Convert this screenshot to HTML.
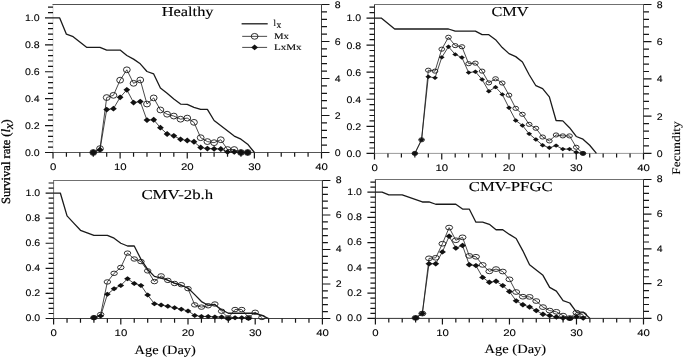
<!DOCTYPE html>
<html><head><meta charset="utf-8"><style>
html,body{margin:0;padding:0;background:#fff;}
svg{display:block;filter:blur(0.3px)}
.ax{stroke-width:1;fill:none}
.tk{stroke:#151515;stroke-width:1.2;fill:none}
.lx{stroke:#1a1a1a;stroke-width:1.3;fill:none;stroke-linejoin:round}
.dl{stroke:#1a1a1a;stroke-width:0.8;fill:none}
.ci{stroke:#1a1a1a;stroke-width:0.9;fill:none}
.di{fill:#111;stroke:none}
text{font-family:"Liberation Sans",sans-serif;fill:#111;text-rendering:geometricPrecision}
.tl{font-size:9.5px;fill:#000;stroke:#000;stroke-width:0.1px}
.tt{font-family:"Liberation Serif",serif;font-size:13.6px;fill:#000;stroke:#000;stroke-width:0.12px}
.at{font-family:"Liberation Serif",serif;font-size:12.7px;fill:#000;stroke:#000;stroke-width:0.12px}
.lg{font-family:"Liberation Serif",serif;font-size:8.9px;fill:#000;stroke:#000;stroke-width:0.1px}
.lgs{font-family:"Liberation Serif",serif;font-size:9.6px;fill:#000;stroke:#000;stroke-width:0.1px}
.yl{font-family:"Liberation Serif",serif;font-size:12.5px;fill:#000;stroke:#000;stroke-width:0.3px}
.yl2{font-family:"Liberation Serif",serif;font-size:11.5px;fill:#000;stroke:#000;stroke-width:0.12px}
</style></head>
<body><svg width="685" height="357" viewBox="0 0 685 357">
<rect width="685" height="357" fill="#fff"/>
<line x1="53" y1="4.5" x2="53" y2="152.5" class="ax" stroke="#d8d8d8"/>
<line x1="53" y1="152.5" x2="321.5" y2="152.5" class="ax" stroke="#555"/>
<line x1="52.5" y1="4.5" x2="321.5" y2="4.5" class="ax" stroke="#505050"/>
<line x1="321.5" y1="4.5" x2="321.5" y2="152.5" class="ax" stroke="#444"/>
<path d="M45 152.5H53M48 147.12H53M48 141.74H53M48 136.35H53M48 130.97H53M45 125.59H53M48 120.21H53M48 114.83H53M48 109.45H53M48 104.06H53M45 98.68H53M48 93.3H53M48 87.92H53M48 82.54H53M48 77.15H53M45 71.77H53M48 66.39H53M48 61.01H53M48 55.63H53M48 50.25H53M45 44.86H53M48 39.48H53M48 34.1H53M48 28.72H53M48 23.34H53M45 17.95H53M48 12.57H53M48 7.19H53M321.5 152.5H329.5M321.5 145.1H327M321.5 137.7H327M321.5 130.3H327M321.5 122.9H327M321.5 115.5H329.5M321.5 108.1H327M321.5 100.7H327M321.5 93.3H327M321.5 85.9H327M321.5 78.5H329.5M321.5 71.1H327M321.5 63.7H327M321.5 56.3H327M321.5 48.9H327M321.5 41.5H329.5M321.5 34.1H327M321.5 26.7H327M321.5 19.3H327M321.5 11.9H327M321.5 4.5H329.5M53 152.5V158.5M66.42 152.5V156.7M79.85 152.5V156.7M93.28 152.5V156.7M106.7 152.5V156.7M120.12 152.5V158.5M133.55 152.5V156.7M146.98 152.5V156.7M160.4 152.5V156.7M173.82 152.5V156.7M187.25 152.5V158.5M200.68 152.5V156.7M214.1 152.5V156.7M227.53 152.5V156.7M240.95 152.5V156.7M254.38 152.5V158.5M267.8 152.5V156.7M281.23 152.5V156.7M294.65 152.5V156.7M308.08 152.5V156.7M321.5 152.5V158.5" class="tk"/>
<text transform="translate(39.6,155.9) scale(1.11,1)" class="tl" text-anchor="end">0.0</text>
<text transform="translate(39.6,128.99) scale(1.11,1)" class="tl" text-anchor="end">0.2</text>
<text transform="translate(39.6,102.08) scale(1.11,1)" class="tl" text-anchor="end">0.4</text>
<text transform="translate(39.6,75.17) scale(1.11,1)" class="tl" text-anchor="end">0.6</text>
<text transform="translate(39.6,48.26) scale(1.11,1)" class="tl" text-anchor="end">0.8</text>
<text transform="translate(39.6,21.35) scale(1.11,1)" class="tl" text-anchor="end">1.0</text>
<text transform="translate(334.8,155.9) scale(1.11,1)" class="tl">0</text>
<text transform="translate(334.8,118.9) scale(1.11,1)" class="tl">2</text>
<text transform="translate(334.8,81.9) scale(1.11,1)" class="tl">4</text>
<text transform="translate(334.8,44.9) scale(1.11,1)" class="tl">6</text>
<text transform="translate(334.8,7.9) scale(1.11,1)" class="tl">8</text>
<text transform="translate(53.1,170.3) scale(1.2,1)" class="tl" text-anchor="middle">0</text>
<text transform="translate(120.22,170.3) scale(1.2,1)" class="tl" text-anchor="middle">10</text>
<text transform="translate(187.35,170.3) scale(1.2,1)" class="tl" text-anchor="middle">20</text>
<text transform="translate(254.47,170.3) scale(1.2,1)" class="tl" text-anchor="middle">30</text>
<text transform="translate(321.6,170.3) scale(1.2,1)" class="tl" text-anchor="middle">40</text>
<polyline points="53,17.95 59.71,17.95 66.42,34.23 73.14,36.66 86.56,47.29 99.99,47.29 106.7,50.11 120.12,50.11 126.84,55.49 133.55,59.13 140.26,63.83 146.98,71.5 153.69,73.93 160.4,88.05 167.11,93.3 173.82,98.95 180.54,104.06 187.25,104.33 193.96,107.29 200.68,109.45 207.39,109.45 214.1,120.48 234.24,136.09 240.95,139.18 247.66,144.16 254.38,152.5" class="lx"/>
<polyline points="93.28,152.5 99.99,148.62 106.7,97.56 113.41,95.34 120.12,80.16 126.84,69.81 133.55,83.31 140.26,79.98 146.98,104.03 153.69,97.92 160.4,109.95 167.11,114.21 173.82,116.06 180.54,119.2 187.25,118.09 193.96,122.34 200.68,137.7 207.39,141.59 214.1,142.69 220.81,139.74 227.53,149.54 234.24,149.54 240.95,152.5 247.66,152.5" class="dl"/>
<polyline points="93.28,152.5 99.99,149.72 106.7,109.58 113.41,108.66 120.12,97.37 126.84,89.78 133.55,102.55 140.26,101.62 146.98,120.12 153.69,119.75 160.4,127.71 167.11,134 173.82,135.85 180.54,139.37 187.25,140.47 193.96,141.77 200.68,147.5 207.39,148.62 214.1,148.8 220.81,148.99 227.53,151.94 234.24,151.94 240.95,152.5 247.66,152.5" class="dl"/>
<ellipse cx="93.28" cy="152.5" rx="3.4" ry="2.9" class="ci" stroke-width="0.9"/>
<ellipse cx="99.99" cy="148.62" rx="3.4" ry="2.9" class="ci" stroke-width="0.9"/>
<ellipse cx="106.7" cy="97.56" rx="3.4" ry="2.9" class="ci" stroke-width="0.9"/>
<ellipse cx="113.41" cy="95.34" rx="3.4" ry="2.9" class="ci" stroke-width="0.9"/>
<ellipse cx="120.12" cy="80.16" rx="3.4" ry="2.9" class="ci" stroke-width="0.9"/>
<ellipse cx="126.84" cy="69.81" rx="3.4" ry="2.9" class="ci" stroke-width="0.9"/>
<ellipse cx="133.55" cy="83.31" rx="3.4" ry="2.9" class="ci" stroke-width="0.9"/>
<ellipse cx="140.26" cy="79.98" rx="3.4" ry="2.9" class="ci" stroke-width="0.9"/>
<ellipse cx="146.98" cy="104.03" rx="3.4" ry="2.9" class="ci" stroke-width="0.9"/>
<ellipse cx="153.69" cy="97.92" rx="3.4" ry="2.9" class="ci" stroke-width="0.9"/>
<ellipse cx="160.4" cy="109.95" rx="3.4" ry="2.9" class="ci" stroke-width="0.9"/>
<ellipse cx="167.11" cy="114.21" rx="3.4" ry="2.9" class="ci" stroke-width="0.9"/>
<ellipse cx="173.82" cy="116.06" rx="3.4" ry="2.9" class="ci" stroke-width="0.9"/>
<ellipse cx="180.54" cy="119.2" rx="3.4" ry="2.9" class="ci" stroke-width="0.9"/>
<ellipse cx="187.25" cy="118.09" rx="3.4" ry="2.9" class="ci" stroke-width="0.9"/>
<ellipse cx="193.96" cy="122.34" rx="3.4" ry="2.9" class="ci" stroke-width="0.9"/>
<ellipse cx="200.68" cy="137.7" rx="3.4" ry="2.9" class="ci" stroke-width="0.9"/>
<ellipse cx="207.39" cy="141.59" rx="3.4" ry="2.9" class="ci" stroke-width="0.9"/>
<ellipse cx="214.1" cy="142.69" rx="3.4" ry="2.9" class="ci" stroke-width="0.9"/>
<ellipse cx="220.81" cy="139.74" rx="3.4" ry="2.9" class="ci" stroke-width="0.9"/>
<ellipse cx="227.53" cy="149.54" rx="3.4" ry="2.9" class="ci" stroke-width="0.9"/>
<ellipse cx="234.24" cy="149.54" rx="3.4" ry="2.9" class="ci" stroke-width="0.9"/>
<ellipse cx="240.95" cy="152.5" rx="3.4" ry="2.9" class="ci" stroke-width="0.9"/>
<ellipse cx="247.66" cy="152.5" rx="3.4" ry="2.9" class="ci" stroke-width="0.9"/>
<ellipse cx="93.28" cy="152.5" rx="3.13" ry="2.67" fill="#222"/>
<path d="M89.88 152.5L93.28 149.6L96.68 152.5L93.28 155.4Z" class="di"/>
<path d="M96.59 149.72L99.99 146.82L103.39 149.72L99.99 152.62Z" class="di"/>
<path d="M103.3 109.58L106.7 106.68L110.1 109.58L106.7 112.48Z" class="di"/>
<path d="M110.01 108.66L113.41 105.75L116.81 108.66L113.41 111.56Z" class="di"/>
<path d="M116.72 97.37L120.12 94.47L123.53 97.37L120.12 100.27Z" class="di"/>
<path d="M123.44 89.78L126.84 86.88L130.24 89.78L126.84 92.69Z" class="di"/>
<path d="M130.15 102.55L133.55 99.65L136.95 102.55L133.55 105.45Z" class="di"/>
<path d="M136.86 101.62L140.26 98.72L143.66 101.62L140.26 104.53Z" class="di"/>
<path d="M143.58 120.12L146.98 117.22L150.38 120.12L146.98 123.03Z" class="di"/>
<path d="M150.29 119.75L153.69 116.85L157.09 119.75L153.69 122.66Z" class="di"/>
<path d="M157 127.71L160.4 124.81L163.8 127.71L160.4 130.61Z" class="di"/>
<path d="M163.71 134L167.11 131.1L170.51 134L167.11 136.9Z" class="di"/>
<path d="M170.42 135.85L173.82 132.95L177.22 135.85L173.82 138.75Z" class="di"/>
<path d="M177.14 139.37L180.54 136.47L183.94 139.37L180.54 142.27Z" class="di"/>
<path d="M183.85 140.47L187.25 137.57L190.65 140.47L187.25 143.38Z" class="di"/>
<path d="M190.56 141.77L193.96 138.87L197.36 141.77L193.96 144.67Z" class="di"/>
<path d="M197.28 147.5L200.68 144.6L204.08 147.5L200.68 150.41Z" class="di"/>
<path d="M203.99 148.62L207.39 145.72L210.79 148.62L207.39 151.52Z" class="di"/>
<path d="M210.7 148.8L214.1 145.9L217.5 148.8L214.1 151.7Z" class="di"/>
<path d="M217.41 148.99L220.81 146.09L224.21 148.99L220.81 151.89Z" class="di"/>
<path d="M224.12 151.94L227.53 149.04L230.93 151.94L227.53 154.84Z" class="di"/>
<path d="M230.84 151.94L234.24 149.04L237.64 151.94L234.24 154.84Z" class="di"/>
<ellipse cx="240.95" cy="152.5" rx="3.13" ry="2.67" fill="#222"/>
<path d="M237.55 152.5L240.95 149.6L244.35 152.5L240.95 155.4Z" class="di"/>
<ellipse cx="247.66" cy="152.5" rx="3.13" ry="2.67" fill="#222"/>
<path d="M244.26 152.5L247.66 149.6L251.06 152.5L247.66 155.4Z" class="di"/>
<text x="161.7" y="16.1" class="tt" textLength="51.9" lengthAdjust="spacingAndGlyphs">Healthy</text>
<line x1="374.5" y1="4.5" x2="374.5" y2="153.4" class="ax" stroke="#333"/>
<line x1="374.5" y1="153.4" x2="643.5" y2="153.4" class="ax" stroke="#9a9a9a"/>
<line x1="374" y1="4.5" x2="643.5" y2="4.5" class="ax" stroke="#707070"/>
<line x1="643.5" y1="4.5" x2="643.5" y2="153.4" class="ax" stroke="#606060"/>
<path d="M366.5 153.4H374.5M369.5 147.99H374.5M369.5 142.57H374.5M369.5 137.16H374.5M369.5 131.74H374.5M366.5 126.33H374.5M369.5 120.91H374.5M369.5 115.5H374.5M369.5 110.08H374.5M369.5 104.67H374.5M366.5 99.25H374.5M369.5 93.84H374.5M369.5 88.43H374.5M369.5 83.01H374.5M369.5 77.6H374.5M366.5 72.18H374.5M369.5 66.77H374.5M369.5 61.35H374.5M369.5 55.94H374.5M369.5 50.52H374.5M366.5 45.11H374.5M369.5 39.69H374.5M369.5 34.28H374.5M369.5 28.87H374.5M369.5 23.45H374.5M366.5 18.04H374.5M369.5 12.62H374.5M369.5 7.21H374.5M643.5 153.4H651.5M643.5 145.96H649M643.5 138.51H649M643.5 131.06H649M643.5 123.62H649M643.5 116.18H651.5M643.5 108.73H649M643.5 101.28H649M643.5 93.84H649M643.5 86.39H649M643.5 78.95H651.5M643.5 71.5H649M643.5 64.06H649M643.5 56.61H649M643.5 49.17H649M643.5 41.72H651.5M643.5 34.28H649M643.5 26.83H649M643.5 19.39H649M643.5 11.94H649M643.5 4.5H651.5M374.5 153.4V159.4M387.95 153.4V157.6M401.4 153.4V157.6M414.85 153.4V157.6M428.3 153.4V157.6M441.75 153.4V159.4M455.2 153.4V157.6M468.65 153.4V157.6M482.1 153.4V157.6M495.55 153.4V157.6M509 153.4V159.4M522.45 153.4V157.6M535.9 153.4V157.6M549.35 153.4V157.6M562.8 153.4V157.6M576.25 153.4V159.4M589.7 153.4V157.6M603.15 153.4V157.6M616.6 153.4V157.6M630.05 153.4V157.6M643.5 153.4V159.4" class="tk"/>
<text transform="translate(361.1,156.8) scale(1.11,1)" class="tl" text-anchor="end">0.0</text>
<text transform="translate(361.1,129.73) scale(1.11,1)" class="tl" text-anchor="end">0.2</text>
<text transform="translate(361.1,102.65) scale(1.11,1)" class="tl" text-anchor="end">0.4</text>
<text transform="translate(361.1,75.58) scale(1.11,1)" class="tl" text-anchor="end">0.6</text>
<text transform="translate(361.1,48.51) scale(1.11,1)" class="tl" text-anchor="end">0.8</text>
<text transform="translate(361.1,21.44) scale(1.11,1)" class="tl" text-anchor="end">1.0</text>
<text transform="translate(656.8,156.8) scale(1.11,1)" class="tl">0</text>
<text transform="translate(656.8,119.58) scale(1.11,1)" class="tl">2</text>
<text transform="translate(656.8,82.35) scale(1.11,1)" class="tl">4</text>
<text transform="translate(656.8,45.12) scale(1.11,1)" class="tl">6</text>
<text transform="translate(656.8,7.9) scale(1.11,1)" class="tl">8</text>
<text transform="translate(374.6,171.2) scale(1.2,1)" class="tl" text-anchor="middle">0</text>
<text transform="translate(441.85,171.2) scale(1.2,1)" class="tl" text-anchor="middle">10</text>
<text transform="translate(509.1,171.2) scale(1.2,1)" class="tl" text-anchor="middle">20</text>
<text transform="translate(576.35,171.2) scale(1.2,1)" class="tl" text-anchor="middle">30</text>
<text transform="translate(643.6,171.2) scale(1.2,1)" class="tl" text-anchor="middle">40</text>
<polyline points="374.5,18.04 381.23,18.04 394.68,29 448.48,29 455.2,31.17 475.38,31.17 482.1,34.69 488.82,34.69 495.55,39.69 502.27,47.55 509,53.64 515.73,56.62 522.45,62.03 529.17,74.75 535.9,85.72 542.62,88.56 549.35,96.82 556.08,120.51 562.8,120.91 569.52,127.68 576.25,136.48 582.98,139.19 589.7,145.28 596.42,153.4" class="lx"/>
<polyline points="414.85,153.4 421.57,139.81 428.3,70.2 435.02,71.13 441.75,49.17 448.48,37.26 455.2,45.63 461.93,46.75 468.65,63.69 475.38,63.13 482.1,71.13 488.82,82.86 495.55,78.76 502.27,83.04 509,95.14 515.73,108.36 522.45,114.31 529.17,124.36 535.9,128.27 542.62,137.02 549.35,140.93 556.08,134.97 562.8,135.9 569.52,135.9 576.25,147.26 582.98,153.4" class="dl"/>
<polyline points="414.85,153.4 421.57,139.81 428.3,76.72 435.02,77.83 441.75,57.36 448.48,46.75 455.2,54.38 461.93,57.55 468.65,72.62 475.38,71.69 482.1,79.51 488.82,91.23 495.55,87.14 502.27,94.4 509,107.8 515.73,120.46 522.45,125.48 529.17,133.86 535.9,139.44 542.62,145.21 549.35,147.82 556.08,145.58 562.8,149.12 569.52,149.12 576.25,152.28 582.98,153.4" class="dl"/>
<ellipse cx="414.85" cy="153.4" rx="2.85" ry="2.05" class="ci" stroke-width="0.75"/>
<ellipse cx="421.57" cy="139.81" rx="2.85" ry="2.05" class="ci" stroke-width="0.75"/>
<ellipse cx="428.3" cy="70.2" rx="2.85" ry="2.05" class="ci" stroke-width="0.75"/>
<ellipse cx="435.02" cy="71.13" rx="2.85" ry="2.05" class="ci" stroke-width="0.75"/>
<ellipse cx="441.75" cy="49.17" rx="2.85" ry="2.05" class="ci" stroke-width="0.75"/>
<ellipse cx="448.48" cy="37.26" rx="2.85" ry="2.05" class="ci" stroke-width="0.75"/>
<ellipse cx="455.2" cy="45.63" rx="2.85" ry="2.05" class="ci" stroke-width="0.75"/>
<ellipse cx="461.93" cy="46.75" rx="2.85" ry="2.05" class="ci" stroke-width="0.75"/>
<ellipse cx="468.65" cy="63.69" rx="2.85" ry="2.05" class="ci" stroke-width="0.75"/>
<ellipse cx="475.38" cy="63.13" rx="2.85" ry="2.05" class="ci" stroke-width="0.75"/>
<ellipse cx="482.1" cy="71.13" rx="2.85" ry="2.05" class="ci" stroke-width="0.75"/>
<ellipse cx="488.82" cy="82.86" rx="2.85" ry="2.05" class="ci" stroke-width="0.75"/>
<ellipse cx="495.55" cy="78.76" rx="2.85" ry="2.05" class="ci" stroke-width="0.75"/>
<ellipse cx="502.27" cy="83.04" rx="2.85" ry="2.05" class="ci" stroke-width="0.75"/>
<ellipse cx="509" cy="95.14" rx="2.85" ry="2.05" class="ci" stroke-width="0.75"/>
<ellipse cx="515.73" cy="108.36" rx="2.85" ry="2.05" class="ci" stroke-width="0.75"/>
<ellipse cx="522.45" cy="114.31" rx="2.85" ry="2.05" class="ci" stroke-width="0.75"/>
<ellipse cx="529.17" cy="124.36" rx="2.85" ry="2.05" class="ci" stroke-width="0.75"/>
<ellipse cx="535.9" cy="128.27" rx="2.85" ry="2.05" class="ci" stroke-width="0.75"/>
<ellipse cx="542.62" cy="137.02" rx="2.85" ry="2.05" class="ci" stroke-width="0.75"/>
<ellipse cx="549.35" cy="140.93" rx="2.85" ry="2.05" class="ci" stroke-width="0.75"/>
<ellipse cx="556.08" cy="134.97" rx="2.85" ry="2.05" class="ci" stroke-width="0.75"/>
<ellipse cx="562.8" cy="135.9" rx="2.85" ry="2.05" class="ci" stroke-width="0.75"/>
<ellipse cx="569.52" cy="135.9" rx="2.85" ry="2.05" class="ci" stroke-width="0.75"/>
<ellipse cx="576.25" cy="147.26" rx="2.85" ry="2.05" class="ci" stroke-width="0.75"/>
<ellipse cx="582.98" cy="153.4" rx="2.85" ry="2.05" class="ci" stroke-width="0.75"/>
<ellipse cx="414.85" cy="153.4" rx="2.62" ry="1.89" fill="#222"/>
<path d="M411.95 153.4L414.85 151.2L417.75 153.4L414.85 155.6Z" class="di"/>
<path d="M418.68 139.81L421.57 137.61L424.47 139.81L421.57 142.01Z" class="di"/>
<path d="M425.4 76.72L428.3 74.52L431.2 76.72L428.3 78.92Z" class="di"/>
<path d="M432.12 77.83L435.02 75.63L437.92 77.83L435.02 80.03Z" class="di"/>
<path d="M438.85 57.36L441.75 55.16L444.65 57.36L441.75 59.56Z" class="di"/>
<path d="M445.58 46.75L448.48 44.55L451.38 46.75L448.48 48.95Z" class="di"/>
<path d="M452.3 54.38L455.2 52.18L458.1 54.38L455.2 56.58Z" class="di"/>
<path d="M459.03 57.55L461.93 55.35L464.82 57.55L461.93 59.75Z" class="di"/>
<path d="M465.75 72.62L468.65 70.42L471.55 72.62L468.65 74.82Z" class="di"/>
<path d="M472.48 71.69L475.38 69.49L478.27 71.69L475.38 73.89Z" class="di"/>
<path d="M479.2 79.51L482.1 77.31L485 79.51L482.1 81.71Z" class="di"/>
<path d="M485.93 91.23L488.82 89.03L491.72 91.23L488.82 93.43Z" class="di"/>
<path d="M492.65 87.14L495.55 84.94L498.45 87.14L495.55 89.34Z" class="di"/>
<path d="M499.38 94.4L502.27 92.2L505.17 94.4L502.27 96.6Z" class="di"/>
<path d="M506.1 107.8L509 105.6L511.9 107.8L509 110Z" class="di"/>
<path d="M512.83 120.46L515.73 118.26L518.62 120.46L515.73 122.66Z" class="di"/>
<path d="M519.55 125.48L522.45 123.28L525.35 125.48L522.45 127.68Z" class="di"/>
<path d="M526.27 133.86L529.17 131.66L532.07 133.86L529.17 136.06Z" class="di"/>
<path d="M533 139.44L535.9 137.24L538.8 139.44L535.9 141.64Z" class="di"/>
<path d="M539.73 145.21L542.62 143.01L545.52 145.21L542.62 147.41Z" class="di"/>
<path d="M546.45 147.82L549.35 145.62L552.25 147.82L549.35 150.02Z" class="di"/>
<path d="M553.18 145.58L556.08 143.38L558.98 145.58L556.08 147.78Z" class="di"/>
<path d="M559.9 149.12L562.8 146.92L565.7 149.12L562.8 151.32Z" class="di"/>
<path d="M566.62 149.12L569.52 146.92L572.42 149.12L569.52 151.32Z" class="di"/>
<path d="M573.35 152.28L576.25 150.08L579.15 152.28L576.25 154.48Z" class="di"/>
<ellipse cx="582.98" cy="153.4" rx="2.62" ry="1.89" fill="#222"/>
<path d="M580.08 153.4L582.98 151.2L585.88 153.4L582.98 155.6Z" class="di"/>
<text x="491.4" y="16.35" class="tt" textLength="37.1" lengthAdjust="spacingAndGlyphs">CMV</text>
<line x1="53.6" y1="180.5" x2="53.6" y2="318.5" class="ax" stroke="#777"/>
<line x1="53.6" y1="318.5" x2="322.4" y2="318.5" class="ax" stroke="#404040"/>
<line x1="53.1" y1="180.5" x2="322.4" y2="180.5" class="ax" stroke="#707070"/>
<line x1="322.4" y1="180.5" x2="322.4" y2="318.5" class="ax" stroke="#2a2a2a"/>
<path d="M45.6 318.5H53.6M48.6 313.48H53.6M48.6 308.46H53.6M48.6 303.45H53.6M48.6 298.43H53.6M45.6 293.41H53.6M48.6 288.39H53.6M48.6 283.37H53.6M48.6 278.35H53.6M48.6 273.34H53.6M45.6 268.32H53.6M48.6 263.3H53.6M48.6 258.28H53.6M48.6 253.26H53.6M48.6 248.25H53.6M45.6 243.23H53.6M48.6 238.21H53.6M48.6 233.19H53.6M48.6 228.17H53.6M48.6 223.15H53.6M45.6 218.14H53.6M48.6 213.12H53.6M48.6 208.1H53.6M48.6 203.08H53.6M48.6 198.06H53.6M45.6 193.05H53.6M48.6 188.03H53.6M48.6 183.01H53.6M322.4 318.5H330.4M322.4 311.6H327.9M322.4 304.7H327.9M322.4 297.8H327.9M322.4 290.9H327.9M322.4 284H330.4M322.4 277.1H327.9M322.4 270.2H327.9M322.4 263.3H327.9M322.4 256.4H327.9M322.4 249.5H330.4M322.4 242.6H327.9M322.4 235.7H327.9M322.4 228.8H327.9M322.4 221.9H327.9M322.4 215H330.4M322.4 208.1H327.9M322.4 201.2H327.9M322.4 194.3H327.9M322.4 187.4H327.9M322.4 180.5H330.4M53.6 318.5V324.5M67.04 318.5V322.7M80.48 318.5V322.7M93.92 318.5V322.7M107.36 318.5V322.7M120.8 318.5V324.5M134.24 318.5V322.7M147.68 318.5V322.7M161.12 318.5V322.7M174.56 318.5V322.7M188 318.5V324.5M201.44 318.5V322.7M214.88 318.5V322.7M228.32 318.5V322.7M241.76 318.5V322.7M255.2 318.5V324.5M268.64 318.5V322.7M282.08 318.5V322.7M295.52 318.5V322.7M308.96 318.5V322.7M322.4 318.5V324.5" class="tk"/>
<text transform="translate(40.2,321.3) scale(1.11,1)" class="tl" text-anchor="end">0.0</text>
<text transform="translate(40.2,296.21) scale(1.11,1)" class="tl" text-anchor="end">0.2</text>
<text transform="translate(40.2,271.12) scale(1.11,1)" class="tl" text-anchor="end">0.4</text>
<text transform="translate(40.2,246.03) scale(1.11,1)" class="tl" text-anchor="end">0.6</text>
<text transform="translate(40.2,220.94) scale(1.11,1)" class="tl" text-anchor="end">0.8</text>
<text transform="translate(40.2,195.85) scale(1.11,1)" class="tl" text-anchor="end">1.0</text>
<text transform="translate(335.7,321.3) scale(1.11,1)" class="tl">0</text>
<text transform="translate(335.7,286.8) scale(1.11,1)" class="tl">2</text>
<text transform="translate(335.7,252.3) scale(1.11,1)" class="tl">4</text>
<text transform="translate(335.7,217.8) scale(1.11,1)" class="tl">6</text>
<text transform="translate(335.7,183.3) scale(1.11,1)" class="tl">8</text>
<text transform="translate(53.7,336.3) scale(1.2,1)" class="tl" text-anchor="middle">0</text>
<text transform="translate(120.9,336.3) scale(1.2,1)" class="tl" text-anchor="middle">10</text>
<text transform="translate(188.1,336.3) scale(1.2,1)" class="tl" text-anchor="middle">20</text>
<text transform="translate(255.3,336.3) scale(1.2,1)" class="tl" text-anchor="middle">30</text>
<text transform="translate(322.5,336.3) scale(1.2,1)" class="tl" text-anchor="middle">40</text>
<polyline points="53.6,193.05 60.32,193.05 67.04,215.88 73.76,223.15 80.48,230.31 87.2,232.81 93.92,235.45 107.36,235.45 114.08,238.21 120.8,243.23 127.52,245.99 134.24,245.99 140.96,259.29 147.68,269.45 154.4,276.35 161.12,278.23 167.84,280.24 174.56,283.12 181.28,285.51 188,288.01 194.72,294.66 201.44,301.56 208.16,305.2 214.88,304.7 221.6,309.72 228.32,313.23 255.2,313.23 261.92,315.36 268.64,318.5" class="lx"/>
<polyline points="93.92,317.64 100.64,314.53 107.36,281.93 114.08,273.31 120.8,267.44 127.52,253.12 134.24,258.99 140.96,261.57 147.68,270.89 154.4,281.58 161.12,275.89 167.84,280.38 174.56,283.48 181.28,284.69 188,288.66 194.72,304.87 201.44,307.12 208.16,305.74 214.88,304.01 221.6,311.25 228.32,317.81 235.04,309.53 241.76,309.53 248.48,317.64 255.2,312.29 261.92,317.46" class="dl"/>
<polyline points="93.92,317.64 100.64,316.08 107.36,294.35 114.08,288.83 120.8,285.38 127.52,278.82 134.24,283.48 140.96,285.38 147.68,295.04 154.4,303.67 161.12,305.05 167.84,306.25 174.56,307.81 181.28,309.19 188,310.91 194.72,315.39 201.44,316.43 208.16,316.43 214.88,316.95 221.6,317.12 228.32,318.5 235.04,317.81 241.76,317.81 248.48,318.15" class="dl"/>
<ellipse cx="93.92" cy="317.64" rx="3.25" ry="2.2" class="ci" stroke-width="0.85"/>
<ellipse cx="100.64" cy="314.53" rx="3.25" ry="2.2" class="ci" stroke-width="0.85"/>
<ellipse cx="107.36" cy="281.93" rx="3.25" ry="2.2" class="ci" stroke-width="0.85"/>
<ellipse cx="114.08" cy="273.31" rx="3.25" ry="2.2" class="ci" stroke-width="0.85"/>
<ellipse cx="120.8" cy="267.44" rx="3.25" ry="2.2" class="ci" stroke-width="0.85"/>
<ellipse cx="127.52" cy="253.12" rx="3.25" ry="2.2" class="ci" stroke-width="0.85"/>
<ellipse cx="134.24" cy="258.99" rx="3.25" ry="2.2" class="ci" stroke-width="0.85"/>
<ellipse cx="140.96" cy="261.57" rx="3.25" ry="2.2" class="ci" stroke-width="0.85"/>
<ellipse cx="147.68" cy="270.89" rx="3.25" ry="2.2" class="ci" stroke-width="0.85"/>
<ellipse cx="154.4" cy="281.58" rx="3.25" ry="2.2" class="ci" stroke-width="0.85"/>
<ellipse cx="161.12" cy="275.89" rx="3.25" ry="2.2" class="ci" stroke-width="0.85"/>
<ellipse cx="167.84" cy="280.38" rx="3.25" ry="2.2" class="ci" stroke-width="0.85"/>
<ellipse cx="174.56" cy="283.48" rx="3.25" ry="2.2" class="ci" stroke-width="0.85"/>
<ellipse cx="181.28" cy="284.69" rx="3.25" ry="2.2" class="ci" stroke-width="0.85"/>
<ellipse cx="188" cy="288.66" rx="3.25" ry="2.2" class="ci" stroke-width="0.85"/>
<ellipse cx="194.72" cy="304.87" rx="3.25" ry="2.2" class="ci" stroke-width="0.85"/>
<ellipse cx="201.44" cy="307.12" rx="3.25" ry="2.2" class="ci" stroke-width="0.85"/>
<ellipse cx="208.16" cy="305.74" rx="3.25" ry="2.2" class="ci" stroke-width="0.85"/>
<ellipse cx="214.88" cy="304.01" rx="3.25" ry="2.2" class="ci" stroke-width="0.85"/>
<ellipse cx="221.6" cy="311.25" rx="3.25" ry="2.2" class="ci" stroke-width="0.85"/>
<ellipse cx="228.32" cy="317.81" rx="3.25" ry="2.2" class="ci" stroke-width="0.85"/>
<ellipse cx="235.04" cy="309.53" rx="3.25" ry="2.2" class="ci" stroke-width="0.85"/>
<ellipse cx="241.76" cy="309.53" rx="3.25" ry="2.2" class="ci" stroke-width="0.85"/>
<ellipse cx="248.48" cy="317.64" rx="3.25" ry="2.2" class="ci" stroke-width="0.85"/>
<ellipse cx="255.2" cy="312.29" rx="3.25" ry="2.2" class="ci" stroke-width="0.85"/>
<ellipse cx="261.92" cy="317.46" rx="3.25" ry="2.2" class="ci" stroke-width="0.85"/>
<ellipse cx="93.92" cy="317.64" rx="2.99" ry="2.02" fill="#222"/>
<path d="M90.52 317.64L93.92 315.14L97.32 317.64L93.92 320.14Z" class="di"/>
<path d="M97.24 316.08L100.64 313.58L104.04 316.08L100.64 318.58Z" class="di"/>
<path d="M103.96 294.35L107.36 291.85L110.76 294.35L107.36 296.85Z" class="di"/>
<path d="M110.68 288.83L114.08 286.33L117.48 288.83L114.08 291.33Z" class="di"/>
<path d="M117.4 285.38L120.8 282.88L124.2 285.38L120.8 287.88Z" class="di"/>
<path d="M124.12 278.82L127.52 276.32L130.92 278.82L127.52 281.32Z" class="di"/>
<path d="M130.84 283.48L134.24 280.98L137.64 283.48L134.24 285.98Z" class="di"/>
<path d="M137.56 285.38L140.96 282.88L144.36 285.38L140.96 287.88Z" class="di"/>
<path d="M144.28 295.04L147.68 292.54L151.08 295.04L147.68 297.54Z" class="di"/>
<path d="M151 303.67L154.4 301.17L157.8 303.67L154.4 306.17Z" class="di"/>
<path d="M157.72 305.05L161.12 302.55L164.52 305.05L161.12 307.55Z" class="di"/>
<path d="M164.44 306.25L167.84 303.75L171.24 306.25L167.84 308.75Z" class="di"/>
<path d="M171.16 307.81L174.56 305.31L177.96 307.81L174.56 310.31Z" class="di"/>
<path d="M177.88 309.19L181.28 306.69L184.68 309.19L181.28 311.69Z" class="di"/>
<path d="M184.6 310.91L188 308.41L191.4 310.91L188 313.41Z" class="di"/>
<path d="M191.32 315.39L194.72 312.89L198.12 315.39L194.72 317.89Z" class="di"/>
<path d="M198.04 316.43L201.44 313.93L204.84 316.43L201.44 318.93Z" class="di"/>
<path d="M204.76 316.43L208.16 313.93L211.56 316.43L208.16 318.93Z" class="di"/>
<path d="M211.48 316.95L214.88 314.45L218.28 316.95L214.88 319.45Z" class="di"/>
<path d="M218.2 317.12L221.6 314.62L225 317.12L221.6 319.62Z" class="di"/>
<ellipse cx="228.32" cy="318.5" rx="2.99" ry="2.02" fill="#222"/>
<path d="M224.92 318.5L228.32 316L231.72 318.5L228.32 321Z" class="di"/>
<path d="M231.64 317.81L235.04 315.31L238.44 317.81L235.04 320.31Z" class="di"/>
<path d="M238.36 317.81L241.76 315.31L245.16 317.81L241.76 320.31Z" class="di"/>
<ellipse cx="248.48" cy="318.15" rx="2.99" ry="2.02" fill="#222"/>
<path d="M245.08 318.15L248.48 315.65L251.88 318.15L248.48 320.65Z" class="di"/>
<text x="141.4" y="199" class="tt" textLength="71.8" lengthAdjust="spacingAndGlyphs">CMV-2b.h</text>
<text x="134.6" y="354.1" class="at" textLength="61.3" lengthAdjust="spacingAndGlyphs">Age (Day)</text>
<line x1="375.4" y1="179.5" x2="375.4" y2="318.4" class="ax" stroke="#333"/>
<line x1="375.4" y1="318.4" x2="643.5" y2="318.4" class="ax" stroke="#333"/>
<line x1="374.9" y1="179.5" x2="643.5" y2="179.5" class="ax" stroke="#707070"/>
<line x1="643.5" y1="179.5" x2="643.5" y2="318.4" class="ax" stroke="#333"/>
<path d="M367.4 318.4H375.4M370.4 313.35H375.4M370.4 308.3H375.4M370.4 303.25H375.4M370.4 298.2H375.4M367.4 293.15H375.4M370.4 288.09H375.4M370.4 283.04H375.4M370.4 277.99H375.4M370.4 272.94H375.4M367.4 267.89H375.4M370.4 262.84H375.4M370.4 257.79H375.4M370.4 252.74H375.4M370.4 247.69H375.4M367.4 242.64H375.4M370.4 237.59H375.4M370.4 232.53H375.4M370.4 227.48H375.4M370.4 222.43H375.4M367.4 217.38H375.4M370.4 212.33H375.4M370.4 207.28H375.4M370.4 202.23H375.4M370.4 197.18H375.4M367.4 192.13H375.4M370.4 187.08H375.4M370.4 182.03H375.4M643.5 318.4H651.5M643.5 311.45H649M643.5 304.51H649M643.5 297.56H649M643.5 290.62H649M643.5 283.67H651.5M643.5 276.73H649M643.5 269.78H649M643.5 262.84H649M643.5 255.89H649M643.5 248.95H651.5M643.5 242H649M643.5 235.06H649M643.5 228.12H649M643.5 221.17H649M643.5 214.22H651.5M643.5 207.28H649M643.5 200.33H649M643.5 193.39H649M643.5 186.44H649M643.5 179.5H651.5M375.4 318.4V324.4M388.8 318.4V322.6M402.21 318.4V322.6M415.62 318.4V322.6M429.02 318.4V322.6M442.42 318.4V324.4M455.83 318.4V322.6M469.24 318.4V322.6M482.64 318.4V322.6M496.04 318.4V322.6M509.45 318.4V324.4M522.86 318.4V322.6M536.26 318.4V322.6M549.66 318.4V322.6M563.07 318.4V322.6M576.48 318.4V324.4M589.88 318.4V322.6M603.28 318.4V322.6M616.69 318.4V322.6M630.1 318.4V322.6M643.5 318.4V324.4" class="tk"/>
<text transform="translate(362,321.2) scale(1.11,1)" class="tl" text-anchor="end">0.0</text>
<text transform="translate(362,295.95) scale(1.11,1)" class="tl" text-anchor="end">0.2</text>
<text transform="translate(362,270.69) scale(1.11,1)" class="tl" text-anchor="end">0.4</text>
<text transform="translate(362,245.44) scale(1.11,1)" class="tl" text-anchor="end">0.6</text>
<text transform="translate(362,220.18) scale(1.11,1)" class="tl" text-anchor="end">0.8</text>
<text transform="translate(362,194.93) scale(1.11,1)" class="tl" text-anchor="end">1.0</text>
<text transform="translate(656.8,321.2) scale(1.11,1)" class="tl">0</text>
<text transform="translate(656.8,286.47) scale(1.11,1)" class="tl">2</text>
<text transform="translate(656.8,251.75) scale(1.11,1)" class="tl">4</text>
<text transform="translate(656.8,217.03) scale(1.11,1)" class="tl">6</text>
<text transform="translate(656.8,182.3) scale(1.11,1)" class="tl">8</text>
<text transform="translate(375.5,336.2) scale(1.2,1)" class="tl" text-anchor="middle">0</text>
<text transform="translate(442.52,336.2) scale(1.2,1)" class="tl" text-anchor="middle">10</text>
<text transform="translate(509.55,336.2) scale(1.2,1)" class="tl" text-anchor="middle">20</text>
<text transform="translate(576.58,336.2) scale(1.2,1)" class="tl" text-anchor="middle">30</text>
<text transform="translate(643.6,336.2) scale(1.2,1)" class="tl" text-anchor="middle">40</text>
<polyline points="375.4,192.13 382.1,192.13 388.8,194.78 402.21,194.78 422.32,201.98 429.02,201.98 435.72,204.25 455.83,204.25 462.53,209.05 469.24,209.05 475.94,222.18 482.64,222.18 489.34,224.33 496.04,229.76 502.75,229.76 509.45,234.43 516.15,238.47 522.86,250.84 529.56,264.73 536.26,270.04 542.96,275.34 549.66,287.34 556.37,291.13 563.07,300.6 569.77,302.99 576.48,312.09 583.18,312.09 589.88,318.4" class="lx"/>
<polyline points="415.62,317.88 422.32,313.54 429.02,258.33 435.72,257.8 442.42,243.74 449.13,227.59 455.83,240.27 462.53,237.32 469.24,255.89 475.94,256.76 482.64,264.92 489.34,271.35 496.04,269.09 502.75,271.52 509.45,279.33 516.15,292.01 522.86,296.7 529.56,296.87 536.26,301.04 542.96,307.11 549.66,310.59 556.37,311.8 563.07,315.62 569.77,318.05 576.48,312.67 583.18,314.93" class="dl"/>
<polyline points="415.62,317.88 422.32,313.54 429.02,263.71 435.72,263.71 442.42,251.9 449.13,236.28 455.83,248.08 462.53,245.48 469.24,264.75 475.94,265.62 482.64,277.42 489.34,282.29 496.04,281.24 502.75,285.58 509.45,291.49 516.15,300.86 522.86,304.68 529.56,306.94 536.26,310.59 542.96,314.23 549.66,315.62 556.37,317.01 563.07,318.05 569.77,318.4 576.48,316.66 583.18,318.05" class="dl"/>
<ellipse cx="415.62" cy="317.88" rx="3.5" ry="2.35" class="ci" stroke-width="0.85"/>
<ellipse cx="422.32" cy="313.54" rx="3.5" ry="2.35" class="ci" stroke-width="0.85"/>
<ellipse cx="429.02" cy="258.33" rx="3.5" ry="2.35" class="ci" stroke-width="0.85"/>
<ellipse cx="435.72" cy="257.8" rx="3.5" ry="2.35" class="ci" stroke-width="0.85"/>
<ellipse cx="442.42" cy="243.74" rx="3.5" ry="2.35" class="ci" stroke-width="0.85"/>
<ellipse cx="449.13" cy="227.59" rx="3.5" ry="2.35" class="ci" stroke-width="0.85"/>
<ellipse cx="455.83" cy="240.27" rx="3.5" ry="2.35" class="ci" stroke-width="0.85"/>
<ellipse cx="462.53" cy="237.32" rx="3.5" ry="2.35" class="ci" stroke-width="0.85"/>
<ellipse cx="469.24" cy="255.89" rx="3.5" ry="2.35" class="ci" stroke-width="0.85"/>
<ellipse cx="475.94" cy="256.76" rx="3.5" ry="2.35" class="ci" stroke-width="0.85"/>
<ellipse cx="482.64" cy="264.92" rx="3.5" ry="2.35" class="ci" stroke-width="0.85"/>
<ellipse cx="489.34" cy="271.35" rx="3.5" ry="2.35" class="ci" stroke-width="0.85"/>
<ellipse cx="496.04" cy="269.09" rx="3.5" ry="2.35" class="ci" stroke-width="0.85"/>
<ellipse cx="502.75" cy="271.52" rx="3.5" ry="2.35" class="ci" stroke-width="0.85"/>
<ellipse cx="509.45" cy="279.33" rx="3.5" ry="2.35" class="ci" stroke-width="0.85"/>
<ellipse cx="516.15" cy="292.01" rx="3.5" ry="2.35" class="ci" stroke-width="0.85"/>
<ellipse cx="522.86" cy="296.7" rx="3.5" ry="2.35" class="ci" stroke-width="0.85"/>
<ellipse cx="529.56" cy="296.87" rx="3.5" ry="2.35" class="ci" stroke-width="0.85"/>
<ellipse cx="536.26" cy="301.04" rx="3.5" ry="2.35" class="ci" stroke-width="0.85"/>
<ellipse cx="542.96" cy="307.11" rx="3.5" ry="2.35" class="ci" stroke-width="0.85"/>
<ellipse cx="549.66" cy="310.59" rx="3.5" ry="2.35" class="ci" stroke-width="0.85"/>
<ellipse cx="556.37" cy="311.8" rx="3.5" ry="2.35" class="ci" stroke-width="0.85"/>
<ellipse cx="563.07" cy="315.62" rx="3.5" ry="2.35" class="ci" stroke-width="0.85"/>
<ellipse cx="569.77" cy="318.05" rx="3.5" ry="2.35" class="ci" stroke-width="0.85"/>
<ellipse cx="576.48" cy="312.67" rx="3.5" ry="2.35" class="ci" stroke-width="0.85"/>
<ellipse cx="583.18" cy="314.93" rx="3.5" ry="2.35" class="ci" stroke-width="0.85"/>
<ellipse cx="415.62" cy="317.88" rx="3.22" ry="2.16" fill="#222"/>
<path d="M412.12 317.88L415.62 315.18L419.12 317.88L415.62 320.58Z" class="di"/>
<path d="M418.82 313.54L422.32 310.84L425.82 313.54L422.32 316.24Z" class="di"/>
<path d="M425.52 263.71L429.02 261.01L432.52 263.71L429.02 266.41Z" class="di"/>
<path d="M432.22 263.71L435.72 261.01L439.22 263.71L435.72 266.41Z" class="di"/>
<path d="M438.92 251.9L442.42 249.2L445.92 251.9L442.42 254.6Z" class="di"/>
<path d="M445.63 236.28L449.13 233.58L452.63 236.28L449.13 238.98Z" class="di"/>
<path d="M452.33 248.08L455.83 245.38L459.33 248.08L455.83 250.78Z" class="di"/>
<path d="M459.03 245.48L462.53 242.78L466.03 245.48L462.53 248.18Z" class="di"/>
<path d="M465.74 264.75L469.24 262.05L472.74 264.75L469.24 267.45Z" class="di"/>
<path d="M472.44 265.62L475.94 262.92L479.44 265.62L475.94 268.32Z" class="di"/>
<path d="M479.14 277.42L482.64 274.72L486.14 277.42L482.64 280.12Z" class="di"/>
<path d="M485.84 282.29L489.34 279.59L492.84 282.29L489.34 284.99Z" class="di"/>
<path d="M492.54 281.24L496.04 278.54L499.54 281.24L496.04 283.94Z" class="di"/>
<path d="M499.25 285.58L502.75 282.88L506.25 285.58L502.75 288.28Z" class="di"/>
<path d="M505.95 291.49L509.45 288.79L512.95 291.49L509.45 294.19Z" class="di"/>
<path d="M512.65 300.86L516.15 298.16L519.65 300.86L516.15 303.56Z" class="di"/>
<path d="M519.36 304.68L522.86 301.98L526.36 304.68L522.86 307.38Z" class="di"/>
<path d="M526.06 306.94L529.56 304.24L533.06 306.94L529.56 309.64Z" class="di"/>
<path d="M532.76 310.59L536.26 307.89L539.76 310.59L536.26 313.29Z" class="di"/>
<path d="M539.46 314.23L542.96 311.53L546.46 314.23L542.96 316.93Z" class="di"/>
<path d="M546.16 315.62L549.66 312.92L553.16 315.62L549.66 318.32Z" class="di"/>
<path d="M552.87 317.01L556.37 314.31L559.87 317.01L556.37 319.71Z" class="di"/>
<path d="M559.57 318.05L563.07 315.35L566.57 318.05L563.07 320.75Z" class="di"/>
<ellipse cx="569.77" cy="318.4" rx="3.22" ry="2.16" fill="#222"/>
<path d="M566.27 318.4L569.77 315.7L573.27 318.4L569.77 321.1Z" class="di"/>
<path d="M572.98 316.66L576.48 313.96L579.98 316.66L576.48 319.36Z" class="di"/>
<path d="M579.68 318.05L583.18 315.35L586.68 318.05L583.18 320.75Z" class="di"/>
<text x="468.8" y="191" class="tt" textLength="83.8" lengthAdjust="spacingAndGlyphs">CMV-PFGC</text>
<text x="484.6" y="353.1" class="at" textLength="61.6" lengthAdjust="spacingAndGlyphs">Age (Day)</text>
<line x1="241.6" y1="23.8" x2="267.7" y2="23.8" class="lx"/>
<line x1="242.2" y1="36.35" x2="267.1" y2="36.35" class="dl"/>
<ellipse cx="254.6" cy="36.35" rx="3.4" ry="2.9" class="ci"/>
<line x1="242.2" y1="47.4" x2="267.1" y2="47.4" class="dl"/>
<path d="M251.2 47.4L254.6 44.5L258 47.4L254.6 50.3Z" class="di"/>
<text x="273.5" y="25.8" class="lg">l</text><text x="276.6" y="28.2" class="lgs">x</text>
<text x="273.9" y="39.4" class="lg" textLength="15" lengthAdjust="spacingAndGlyphs">Mx</text>
<text x="273.9" y="49.7" class="lg" textLength="27.7" lengthAdjust="spacingAndGlyphs">LxMx</text>
<text transform="translate(9.9,204.0) rotate(-90)" class="yl">Survival rate (<tspan font-style="italic">l</tspan><tspan font-style="italic" dy="3">x</tspan><tspan dy="-3">)</tspan></text>
<text transform="translate(679.6,174.8) rotate(-90)" class="yl2" textLength="53.6" lengthAdjust="spacingAndGlyphs">Fecundity</text>
</svg></body></html>
